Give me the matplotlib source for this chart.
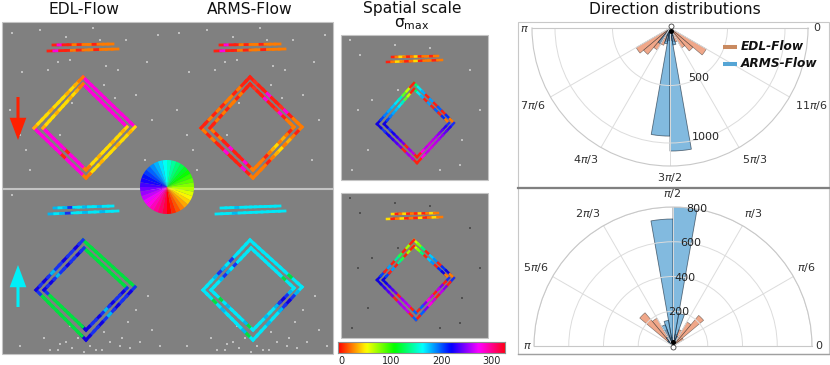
import numpy as np
from matplotlib import pyplot as plt

# polar histograms, 10 degree bins
bin_width = 10
down_edl_bins = [210,220,230,240,250,260,270,280,290,300,310,320]
down_edl = [340,300,220,160,120,110,110,120,130,200,260,365]
down_arms_bins = [230,240,250,260,270,280,290,300]
down_arms = [160,70,140,940,1070,150,70,40]
up_edl_bins = [30,40,50,60,70,80,90,100,110,120,130]
up_edl = [70,230,160,100,70,60,50,60,100,185,250]
up_arms_bins = [60,70,80,90,100,110,120,130]
up_arms = [60,190,800,731,150,130,60,40]
down_ticks = [180,210,240,270,300,330,360]
down_labels = [r'$\pi$',r'$7\pi/6$',r'$4\pi/3$',r'$3\pi/2$',r'$5\pi/3$',r'$11\pi/6$','0']
down_label_xy = [(524,29),(533,106),(586,159),(670,178),(755,159),(811,106),(817,28)]
up_ticks = [0,30,60,90,120,150,180]
up_labels = ['0',r'$\pi/6$',r'$\pi/3$',r'$\pi/2$',r'$2\pi/3$',r'$5\pi/6$',r'$\pi$']
up_label_xy = [(819,346),(806,267),(753,214),(672,194),(588,213),(536,267),(527,346)]
down_rticks = [500, 1000]
down_rangles = [300, 288]
up_rticks = [200, 400, 600, 800]
up_rangles = [80, 80, 80, 80]

# diamond corners in picture pixels: top, right, bottom, left
edl_down_outer = [(83,77),(135,127),(86,178),(34,128)]
edl_down_inner = [(83,84),(127,127),(86,170),(43,128)]
edl_up_outer = [(83,240),(135,287),(86,340),(36,290)]
edl_up_inner = [(84,248),(127,288),(86,330),(44,290)]
sp_down_outer = [(414,83),(454,123),(417,163),(377,124)]
sp_down_inner = [(414,89),(449,123),(417,157),(384,124)]
sp_up_outer = [(414,240),(454,278),(416,320),(377,280)]
sp_up_inner = [(414,246),(449,278),(416,313),(383,280)]
arms_shift = 167

# colours along the sides: top-right, right-bottom, bottom-left, left-top
Y,G,O,R,M = '#ffdc00','#ffb000','#ff7a00','#ff2010','#ff00dc'
edl_down_sides = [[M]*12, [Y,G,Y,Y,G,Y,Y,Y,G,Y,Y,O], [O,M,M,M,M,R,M,M,M,M,M,M], [G,Y,Y,Y,G,Y,Y,Y,G,Y,G,O]]
arms_down_sides = [[R,'#ff3020',R,R,M,R,R,'#ff3020',M,R,O,O], [O,R,O,G,O,Y,G,O,R,O,O,O], [O,R,M,R,R,R,M,R,R,O,R,O], [R,R,O,R,O,R,O,O,R,O,R,R]]
B,D,L,C,E = '#1830f0','#1000e0','#00e040','#00e8f8','#00b8f0'
edl_up_sides = [[L]*12, [B,D,B,B,D,B,E,B,D,B,B,D], [D,L,L,L,L,L,L,L,L,L,L,B], [D,B,D,B,E,B,B,D,B,B,D,B]]
arms_up_sides = [[C,C,C,C,C,C,C,C,C,L,C,C], [C,E,B,D,B,E,C,C,E,C,C,C], [C,L,E,C,C,C,C,E,C,L,C,C], [C,C,C,E,B,E,C,B,C,C,C,C]]
sp_down_sides = [['#00ff60','#00e8f8','#00b0ff',R,'#00a0ff',R,'#0060ff',R,'#0030ff',O],
                 [B,'#3000f0','#6000f0','#9000f0','#b000f0','#c000e0','#d000e0','#c000e8',M,R],
                 [R,'#c000e0','#a000f0',R,'#7000f0','#5000f0','#3000f0','#1000f0',B,D],
                 [D,'#0040ff','#0080ff','#00a8ff','#00c0ff','#00e8f8','#00f0c0','#60ff20','#c0ff00',R]]
sp_up_sides = [['#d0ff00','#80ff00','#00f080',R,'#00c8ff','#0090ff',R,'#0030ff',D,O],
               [B,R,'#8000f0','#c000e8',R,'#d000e0',M,'#8000f0','#0060ff',R],
               ['#0060ff',R,'#c000f0','#b000f0','#a000f0',R,'#7000f0','#5000f0','#3000f0',D],
               [D,'#0040ff',R,'#00a0ff',R,'#00e8a0','#20ff40',R,'#a0ff00',R]]

# the two thin bars above each diamond
edl_down_bars = [((48,51),(118,49)),((53,45),(113,44))]
edl_up_bars = [((49,214),(118,211)),((54,208),(113,206))]
sp_down_bars = [((387,62),(442,60)),((392,57),(438,56))]
sp_up_bars = [((387,219),(442,217)),((392,214),(438,213))]
bar_down = [R,M,R,R,O,R,O,O,R,O,O,O]
bar_up = [E,C,E,B,C,C,E,C,C,E,C,C]
bar_up_arms = [C,C,C,E,C,C,C,C,C,C,C,C]
bar_sp_down = [R,O,Y,O,R,O,Y,R,O,O,R,O]
bar_sp_up = [Y,R,O,Y,R,O,R,Y,R,O,Y,O]

# light and dark specks of the background noise
specks_down_x = [12,22,40,58,66,93,106,126,147,158,10,26,48,72,118,136,152,30,20,115,100,60,145,70,104]
specks_down_y = [33,72,30,62,37,28,66,40,62,35,110,150,70,103,70,95,120,170,135,98,40,135,160,60,85]
specks_up_x = [50,60,72,78,90,102,110,122,130,140,152,160,128,66,44,20,58,96,148,120,136,104,84,70,12]
specks_up_y = [350,344,348,338,346,350,342,338,348,342,330,346,322,342,338,346,350,350,296,346,310,332,352,326,195]
specks_sp_x = [350,360,372,398,430,470,480,358,368,440,462,352,395,460]
specks_sp_y = [40,55,100,90,48,70,110,110,150,170,140,170,45,165]


def strip(ax, p0, p1, colors, lw):
    xs = np.linspace(p0[0], p1[0], len(colors)+1)
    ys = np.linspace(p0[1], p1[1], len(colors)+1)
    for i, c in enumerate(colors):
        ax.plot(xs[i:i+2], ys[i:i+2], color=c, lw=lw, solid_capstyle='projecting')


def diamond(ax, outer, inner, sides, lw, dx=0):
    for pts in (outer, inner):
        for i in range(4):
            a, b = pts[i], pts[(i+1) % 4]
            strip(ax, (a[0]+dx, a[1]), (b[0]+dx, b[1]), sides[i], lw)


def bars(ax, segs, colors, lw, dx=0):
    for a, b in segs:
        strip(ax, (a[0]+dx, a[1]), (b[0]+dx, b[1]), colors, lw)


W, H = 830, 365
fig = plt.figure(figsize=(W/100, H/100), dpi=100)
bg = fig.add_axes([0, 0, 1, 1])
bg.set_xlim(0, W)
bg.set_ylim(H, 0)
bg.axis('off')

# grey panels
grey = '#808080'
edge = '#c4c4c4'
for x, y, w, h in [(2,22,331,166), (2,189,331,165), (341,35,147,145), (341,193,147,145)]:
    bg.add_patch(plt.Rectangle((x, y), w, h, fc=grey, ec=edge, lw=0.8))

sp = dict(s=0.7, c='#c0c0c0', marker='s', lw=0)
bg.scatter(specks_down_x, specks_down_y, **sp)
bg.scatter(np.array(specks_down_x)+arms_shift, specks_down_y, **sp)
bg.scatter(specks_up_x, specks_up_y, **sp)
bg.scatter(np.array(specks_up_x)+arms_shift, specks_up_y, **sp)
bg.scatter(specks_sp_x, specks_sp_y, **sp)
bg.scatter(specks_sp_x, np.array(specks_sp_y)+158, s=0.7, c='#505050', marker='s', lw=0)

lw1 = 2.3
diamond(bg, edl_down_outer, edl_down_inner, edl_down_sides, lw1)
diamond(bg, edl_down_outer, edl_down_inner, arms_down_sides, lw1, arms_shift)
diamond(bg, edl_up_outer, edl_up_inner, edl_up_sides, lw1)
diamond(bg, edl_up_outer, edl_up_inner, arms_up_sides, lw1, arms_shift)
diamond(bg, sp_down_outer, sp_down_inner, sp_down_sides, 1.8)
diamond(bg, sp_up_outer, sp_up_inner, sp_up_sides, 1.8)
bars(bg, edl_down_bars, bar_down, 2)
bars(bg, edl_down_bars, bar_down, 2, arms_shift)
bars(bg, edl_up_bars, bar_up, 2)
bars(bg, edl_up_bars, bar_up_arms, 2, arms_shift)
bars(bg, sp_down_bars, bar_sp_down, 1.8)
bars(bg, sp_up_bars, bar_sp_up, 1.8)

# direction arrows
bg.annotate('', xy=(18, 140), xytext=(18, 97),
            arrowprops=dict(facecolor='#ff2000', edgecolor='none', width=2.2, headwidth=12, headlength=16, shrink=0))
bg.annotate('', xy=(18, 265), xytext=(18, 307),
            arrowprops=dict(facecolor='#00f0f8', edgecolor='none', width=2.2, headwidth=12, headlength=16, shrink=0))

# titles
bg.text(84, 9, 'EDL-Flow', ha='center', va='center', fontsize=11.2, color='#111111')
bg.text(250, 9, 'ARMS-Flow', ha='center', va='center', fontsize=11.2, color='#111111')
bg.text(412, 8, 'Spatial scale', ha='center', va='center', fontsize=11.2, color='#111111')
bg.text(412, 24, r'$\mathregular{\sigma_{max}}$', ha='center', va='center', fontsize=11.2, color='#111111')
bg.text(675, 9, 'Direction distributions', ha='center', va='center', fontsize=11.2, color='#111111')

# frames of the polar panels
bg.add_patch(plt.Rectangle((518, 22), 311, 165, fc='white', ec='#c8c8c8', lw=0.8))
bg.add_patch(plt.Rectangle((518, 188), 311, 166, fc='white', ec='#c8c8c8', lw=0.8))
bg.plot([518, 829], [187.5, 187.5], color='#808080', lw=1.6)
bg.plot([518, 829], [354, 354], color='#a0a0a0', lw=1)


def polar(cx, cy, r, tmin, tmax, rmax, rticks, rangles, ticks, edl_b, edl, arms_b, arms):
    # a half disc sits in the middle of a square box, so the box is 2r high
    if tmin == 180:
        bottom = 1-(cy+1.5*r)/H
    else:
        bottom = 1-(cy+0.5*r)/H
    ax = fig.add_axes([(cx-r)/W, bottom, 2*r/W, 2*r/H], projection='polar')
    ax.patch.set_alpha(0)
    ax.set_thetamin(tmin)
    ax.set_thetamax(tmax)
    ax.set_rlim(0, rmax)
    ax.bar(np.radians(np.array(edl_b)+bin_width/2), edl, width=np.radians(bin_width), color='#e8794a',
           alpha=0.65, edgecolor='#303030', lw=0.4, label='EDL-Flow')
    ax.bar(np.radians(np.array(arms_b)+bin_width/2), arms, width=np.radians(bin_width), color='#2f8ccb',
           alpha=0.6, edgecolor='#102030', lw=0.6, label='ARMS-Flow')
    ax.set_xticks(np.radians(ticks))
    ax.set_xticklabels([])
    ax.set_yticks(rticks)
    ax.set_yticklabels([])
    for v, a in zip(rticks, rangles):
        ax.text(np.radians(a), v, str(v), fontsize=8, color='#222222', ha='center', va='center')
    ax.grid(color='#dcdcdc', lw=0.7)
    for s in ax.spines.values():
        s.set_color('#c8c8c8')
        s.set_linewidth(0.8)
    ax.spines['start'].set_visible(False)
    ax.spines['end'].set_visible(False)
    ax.spines['inner'].set_visible(False)
    return ax


top = polar(670, 28, 138, 180, 360, 1200, down_rticks, down_rangles, down_ticks,
            down_edl_bins, down_edl, down_arms_bins, down_arms)
bot = polar(673, 346, 139, 0, 180, 800, up_rticks, up_rangles, up_ticks,
            up_edl_bins, up_edl, up_arms_bins, up_arms)

# legend, angle labels and hub marks of the polar panels
lg = fig.add_axes([0, 0, 1, 1], zorder=5)
lg.set_xlim(0, W)
lg.set_ylim(H, 0)
lg.axis('off')
lg.patch.set_alpha(0)
lg.plot([723, 737], [47, 47], color='#c98a60', lw=2.9, solid_capstyle='butt')
lg.plot([723, 737], [63.5, 63.5], color='#55a5d5', lw=2.9, solid_capstyle='butt')
lg.text(741, 47, 'EDL-Flow', fontsize=8.7, style='italic', weight='bold', va='center', color='#111111')
lg.text(741, 63.5, 'ARMS-Flow', fontsize=8.7, style='italic', weight='bold', va='center', color='#111111')
for (x, y), s in zip(down_label_xy, down_labels):
    lg.text(x, y, s, fontsize=8, color='#303030', ha='center', va='center')
for (x, y), s in zip(up_label_xy, up_labels):
    lg.text(x, y, s, fontsize=8, color='#303030', ha='center', va='center')
lg.plot([670.5, 672.7], [25.5, 346.5], 'o', ms=3.6, mfc='white', mec='#404040', mew=0.6)
lg.plot([670.7, 672.7], [30.5, 342], 'o', ms=3.6, color='black', mew=0)

# colour wheel
wheel_n = 36
wheel = fig.add_axes([140/W, 1-214/H, 54/W, 54/H], zorder=6)
wheel.pie([1]*wheel_n, colors=plt.cm.hsv(np.arange(wheel_n)/wheel_n), startangle=270, radius=1,
          wedgeprops=dict(lw=0))
wheel.set_xlim(-1, 1)
wheel.set_ylim(-1, 1)

# colour bar
cb = fig.add_axes([338/W, 1-353/H, 167/W, 11/H], zorder=6)
cb.imshow(np.linspace(0, 1, 256).reshape(1, -1), cmap='hsv', aspect='auto', extent=[-6, 326, 0, 1])
cb.set_yticks([])
cb.set_xticks([0, 100, 200, 300])
cb.tick_params(axis='x', length=0, labelsize=7, pad=2, colors='#222222')
for s in cb.spines.values():
    s.set_color('#909090')
    s.set_linewidth(0.8)

fig.savefig('out.png', dpi=100)
